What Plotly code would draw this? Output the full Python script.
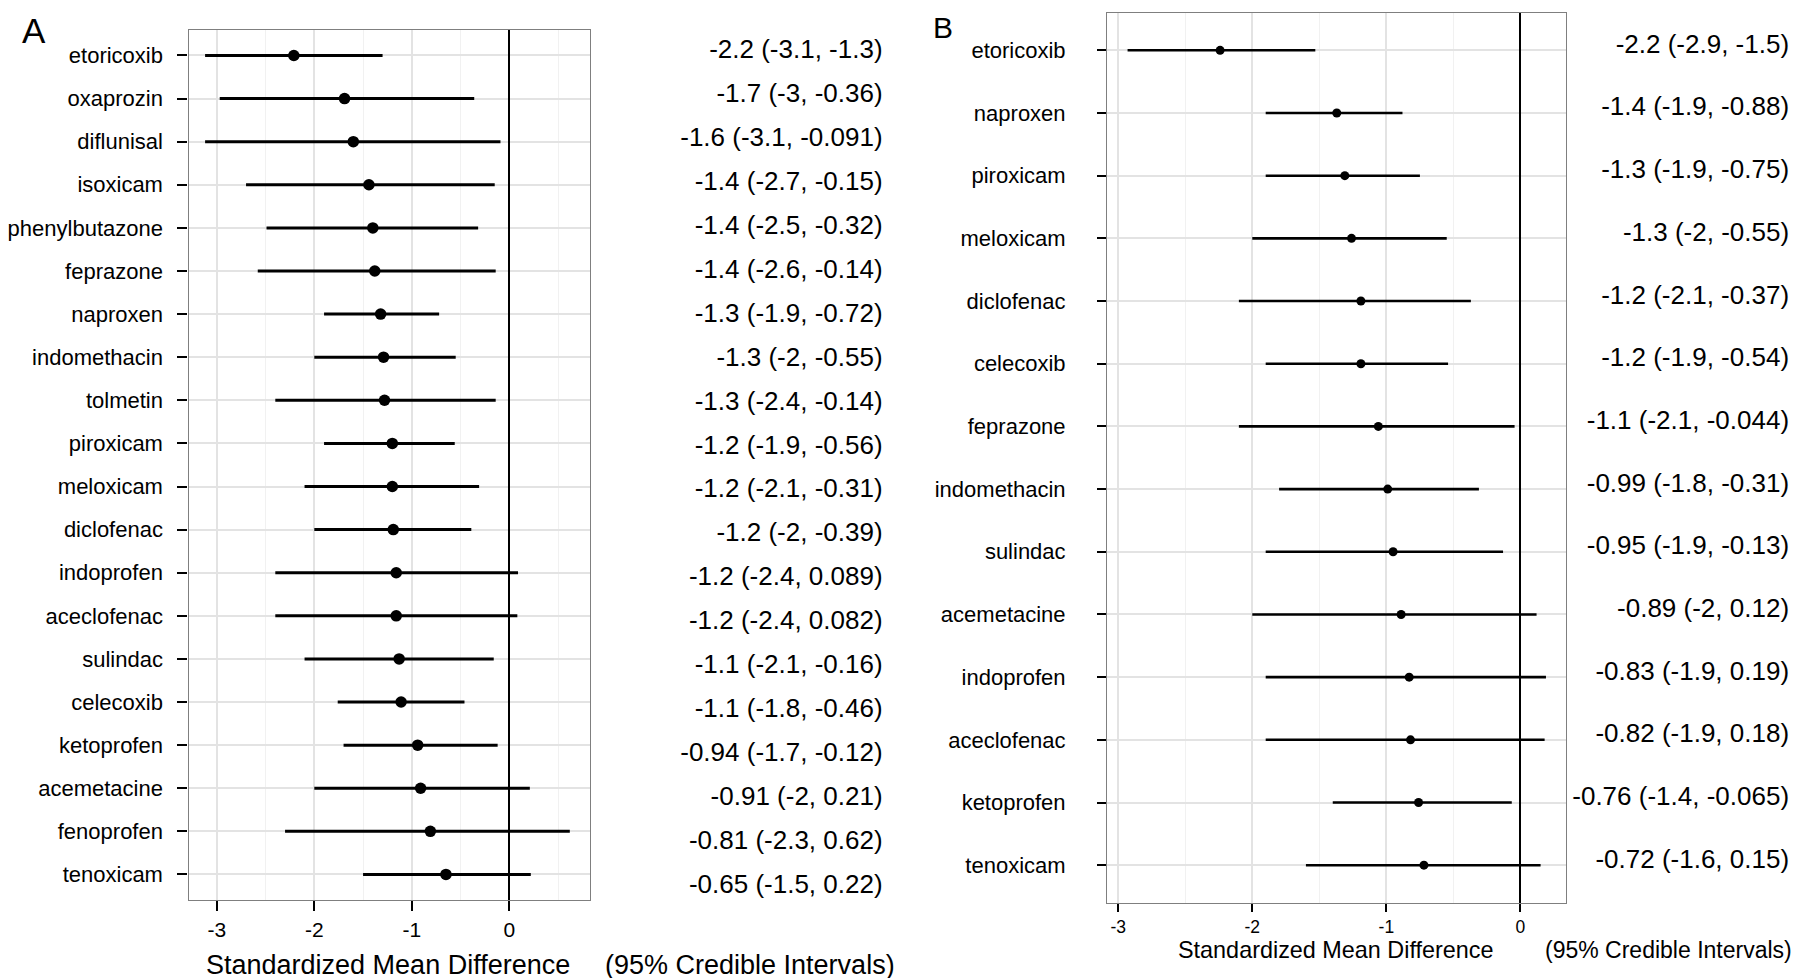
import plotly.graph_objects as go

# Panel A - all NSAIDs
a_drugs = ["etoricoxib", "oxaprozin", "diflunisal", "isoxicam", "phenylbutazone",
           "feprazone", "naproxen", "indomethacin", "tolmetin", "piroxicam",
           "meloxicam", "diclofenac", "indoprofen", "aceclofenac", "sulindac",
           "celecoxib", "ketoprofen", "acemetacine", "fenoprofen", "tenoxicam"]
a_mean = [-2.21, -1.69, -1.60, -1.44, -1.40, -1.38, -1.32, -1.29, -1.28, -1.20,
          -1.20, -1.19, -1.16, -1.16, -1.13, -1.11, -0.94, -0.91, -0.81, -0.65]
a_lower = [-3.12, -2.97, -3.12, -2.70, -2.49, -2.58, -1.9, -2.0, -2.4, -1.9,
           -2.1, -2.0, -2.4, -2.4, -2.1, -1.76, -1.7, -2.0, -2.3, -1.5]
a_upper = [-1.3, -0.36, -0.091, -0.15, -0.32, -0.14, -0.72, -0.55, -0.14, -0.56,
           -0.31, -0.39, 0.089, 0.082, -0.16, -0.46, -0.12, 0.21, 0.62, 0.22]

# Panel B
b_drugs = ["etoricoxib", "naproxen", "piroxicam", "meloxicam", "diclofenac",
           "celecoxib", "feprazone", "indomethacin", "sulindac", "acemetacine",
           "indoprofen", "aceclofenac", "ketoprofen", "tenoxicam"]
b_mean = [-2.24, -1.37, -1.31, -1.26, -1.19, -1.19, -1.06, -0.99, -0.95, -0.89,
          -0.83, -0.82, -0.76, -0.72]
b_lower = [-2.93, -1.9, -1.9, -2.0, -2.1, -1.9, -2.1, -1.8, -1.9, -2.0,
           -1.9, -1.9, -1.4, -1.6]
b_upper = [-1.53, -0.88, -0.75, -0.55, -0.37, -0.54, -0.044, -0.31, -0.13, 0.12,
           0.19, 0.18, -0.065, 0.15]

x_ticks = [-3, -2, -1, 0]
x_ticktext = ["-3", "-2", "-1", "0"]
x_minor = [-2.5, -1.5, -0.5, 0.5]

W, H = 1800, 978
FONT = "Liberation Sans, Arial, Helvetica, sans-serif"
BORDER = "#7f7f7f"
GRID = "#e3e3e3"
GRID_MINOR = "#f1f1f1"


def px_x(v):
    return v / W


def px_y(v):
    return 1 - v / H


def label(m, l, u):
    return f"{m:.2g} ({l:.2g}, {u:.2g})"


a_idx = list(range(len(a_drugs)))
b_idx = list(range(len(b_drugs)))

fig = go.Figure()

# ── Panel A ──────────────────────────────────────────────
fig.add_trace(go.Scatter(
    x=a_mean, y=a_idx, mode="markers", xaxis="x", yaxis="y",
    marker=dict(color="black", size=11.5),
    error_x=dict(type="data", symmetric=False,
                 array=[u - m for m, u in zip(a_mean, a_upper)],
                 arrayminus=[m - l for m, l in zip(a_mean, a_lower)],
                 width=0, thickness=3, color="black"),
    showlegend=False, hoverinfo="skip"
))
fig.add_trace(go.Scatter(
    x=[1] * len(a_drugs), y=a_idx, mode="text", xaxis="x3", yaxis="y3",
    text=[label(m, l, u) for m, l, u in zip(a_mean, a_lower, a_upper)],
    textposition="middle left", cliponaxis=False,
    textfont=dict(family=FONT, size=26, color="black"),
    showlegend=False, hoverinfo="skip"
))

# ── Panel B ──────────────────────────────────────────────
fig.add_trace(go.Scatter(
    x=b_mean, y=b_idx, mode="markers", xaxis="x2", yaxis="y2",
    marker=dict(color="black", size=9),
    error_x=dict(type="data", symmetric=False,
                 array=[u - m for m, u in zip(b_mean, b_upper)],
                 arrayminus=[m - l for m, l in zip(b_mean, b_lower)],
                 width=0, thickness=2.6, color="black"),
    showlegend=False, hoverinfo="skip"
))
fig.add_trace(go.Scatter(
    x=[1] * len(b_drugs), y=b_idx, mode="text", xaxis="x4", yaxis="y4",
    text=[label(m, l, u) for m, l, u in zip(b_mean, b_lower, b_upper)],
    textposition="middle left", cliponaxis=False,
    textfont=dict(family=FONT, size=26, color="black"),
    showlegend=False, hoverinfo="skip"
))

axis_common = dict(
    showline=True, mirror=True, linecolor=BORDER, linewidth=1.3,
    showgrid=True, gridcolor=GRID, gridwidth=1.5,
    ticks="outside", tickcolor="black", tickwidth=1.6,
    fixedrange=True,
)

fig.update_layout(
    width=W, height=H,
    margin=dict(l=0, r=0, t=0, b=0),
    paper_bgcolor="white", plot_bgcolor="white",
    font=dict(family=FONT, color="black"),
    xaxis=dict(
        **axis_common, domain=[px_x(176), px_x(578.3)], range=[-3.29, 0.824],
        anchor="y", tickvals=x_ticks, ticktext=x_ticktext, ticklen=10,
        tickfont=dict(size=21), zeroline=True, zerolinecolor="black",
        zerolinewidth=1.8,
        minor=dict(tickvals=x_minor, showgrid=True, gridcolor=GRID_MINOR,
                   gridwidth=1.3, ticks=""),
    ),
    yaxis=dict(
        **axis_common, domain=[px_y(892.3), px_y(21.6)], range=[19.6, -0.6],
        anchor="x", tickvals=a_idx, ticktext=a_drugs, ticklen=10,
        tickfont=dict(size=22), zeroline=False, ticklabelstandoff=10,
    ),
    xaxis2=dict(
        **axis_common, domain=[px_x(1096.7), px_x(1557)], range=[-3.086, 0.337],
        anchor="y2", tickvals=x_ticks, ticktext=x_ticktext, ticklen=8.5,
        tickfont=dict(size=17.5), zeroline=True, zerolinecolor="black",
        zerolinewidth=1.8,
        minor=dict(tickvals=x_minor, showgrid=True, gridcolor=GRID_MINOR,
                   gridwidth=1.3, ticks=""),
    ),
    yaxis2=dict(
        **axis_common, domain=[px_y(894.8), px_y(4.7)], range=[13.6, -0.6],
        anchor="x2", tickvals=b_idx, ticktext=b_drugs, ticklen=8.5,
        tickfont=dict(size=22), zeroline=False, ticklabelstandoff=27,
    ),
    # value columns
    xaxis3=dict(domain=[px_x(600), px_x(872)], range=[0, 1], visible=False,
                anchor="y3", fixedrange=True),
    yaxis3=dict(domain=[px_y(900), px_y(22)], range=[19.5, -0.5], visible=False,
                anchor="x3", fixedrange=True),
    xaxis4=dict(domain=[px_x(1580), px_x(1781)], range=[0, 1], visible=False,
                anchor="y4", fixedrange=True),
    yaxis4=dict(domain=[px_y(890.8), px_y(0.7)], range=[13.6, -0.6], visible=False,
                anchor="x4", fixedrange=True),
)

annotations = [
    # panel letters
    dict(text="A", x=px_x(21), y=px_y(22), font=dict(size=35)),
    dict(text="B", x=px_x(933), y=px_y(20), font=dict(size=30)),
    # axis titles
    dict(text="Standardized Mean Difference", x=px_x(375.8), y=px_y(957),
         font=dict(size=27)),
    dict(text="(95% Credible Intervals)", x=px_x(739.5), y=px_y(957),
         font=dict(size=27)),
    dict(text="Standardized Mean Difference", x=px_x(1326.7), y=px_y(942),
         font=dict(size=23.4)),
    dict(text="(95% Credible Intervals)", x=px_x(1660), y=px_y(942),
         font=dict(size=23)),
]
for a in annotations:
    a.update(xref="paper", yref="paper", xanchor="center", yanchor="middle",
             showarrow=False)
    a["font"].update(family=FONT, color="black")
fig.update_layout(annotations=annotations)

fig.write_html("out.html", config={"displayModeBar": False})
